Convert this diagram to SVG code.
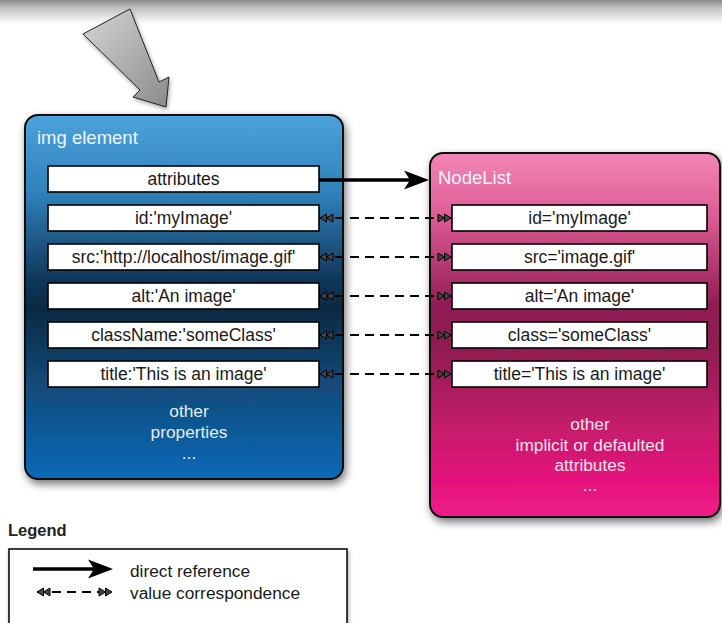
<svg xmlns="http://www.w3.org/2000/svg" width="722" height="623" viewBox="0 0 722 623">
  <defs>
    <linearGradient id="topbar" x1="0" y1="0" x2="0" y2="1">
      <stop offset="0" stop-color="#8c8c8c"/>
      <stop offset="0.35" stop-color="#c4c4c4"/>
      <stop offset="1" stop-color="#ffffff"/>
    </linearGradient>
    <linearGradient id="blue" x1="0" y1="0" x2="0" y2="1">
      <stop offset="0" stop-color="#4ca3dd"/>
      <stop offset="0.22" stop-color="#2f80b9"/>
      <stop offset="0.45" stop-color="#10375a"/>
      <stop offset="0.53" stop-color="#0b2a42"/>
      <stop offset="0.75" stop-color="#134c7c"/>
      <stop offset="1" stop-color="#0769b7"/>
    </linearGradient>
    <linearGradient id="pink" x1="0" y1="0" x2="0" y2="1">
      <stop offset="0" stop-color="#f386b6"/>
      <stop offset="0.18" stop-color="#dc5a93"/>
      <stop offset="0.42" stop-color="#911c54"/>
      <stop offset="0.52" stop-color="#8c1a50"/>
      <stop offset="0.72" stop-color="#bd1f66"/>
      <stop offset="0.9" stop-color="#e5117b"/>
      <stop offset="1" stop-color="#ee2087"/>
    </linearGradient>
    <linearGradient id="grey" x1="0" y1="0" x2="1" y2="1">
      <stop offset="0" stop-color="#d6d6d6"/>
      <stop offset="1" stop-color="#8a8a8a"/>
    </linearGradient>
    <filter id="shadow" x="-10%" y="-10%" width="125%" height="125%">
      <feDropShadow dx="2" dy="4" stdDeviation="4" flood-color="#000" flood-opacity="0.55"/>
    </filter>
    <filter id="shadowS" x="-20%" y="-20%" width="150%" height="150%">
      <feDropShadow dx="1" dy="2" stdDeviation="2" flood-color="#000" flood-opacity="0.35"/>
    </filter>
    <marker id="dbl" markerUnits="userSpaceOnUse" markerWidth="16" markerHeight="12" viewBox="0 -6 16 12" refX="14" refY="0" orient="auto-start-reverse">
      <path d="M1,-4 L7.5,0 L1,4 Z M7.5,-4 L14,0 L7.5,4 Z" fill="#444" stroke="#000" stroke-width="1"/>
    </marker>
  </defs>
  <style>
    text { font-family: "Liberation Sans", Arial, Helvetica, sans-serif; }
    .container { stroke: #111; stroke-width: 2; filter: url(#shadow); }
    .item rect { fill: #ffffff; stroke: #000; stroke-width: 1.6; }
    .item text { font-size: 17.5px; fill: #1a1a1a; text-anchor: middle; }
    .title { font-size: 18.5px; fill: #eef4fa; }
    .note { font-size: 17.3px; text-anchor: middle; }
    .dash { fill: none; stroke: #000; stroke-width: 2.2; stroke-dasharray: 9 6; marker-start: url(#dbl); marker-end: url(#dbl); }
    .solid { fill: none; stroke: #000; stroke-width: 3.4; }
    .legendtext { font-size: 17.3px; fill: #1a1a1a; }
  </style>

  <rect x="0" y="0" width="722" height="24" fill="url(#topbar)"/>

  <g id="pointer-arrow">
    <polygon points="130,9 83,34 140,90 133,97 166,107 169,77 159,82" fill="url(#grey)" stroke="#222" stroke-width="1" filter="url(#shadowS)"/>
  </g>

  <g id="img-element">
    <rect class="container" x="25" y="115" width="318" height="364" rx="13" fill="url(#blue)"/>
    <text class="title" x="37" y="144">img element</text>
    <text class="note" x="189" y="417" fill="#e4edf6">other</text>
    <text class="note" x="189" y="438" fill="#e4edf6">properties</text>
    <text class="note" x="189" y="459" fill="#e4edf6">...</text>
  </g>

  <g id="img-attributes" class="item"><rect x="48" y="166" width="271" height="26"/><text x="183.5" y="184.5">attributes</text></g>
  <g id="img-id" class="item"><rect x="48" y="205" width="271" height="26"/><text x="183.5" y="223.5">id:'myImage'</text></g>
  <g id="img-src" class="item"><rect x="48" y="244" width="271" height="26"/><text x="183.5" y="262.5">src:'http://localhost/image.gif'</text></g>
  <g id="img-alt" class="item"><rect x="48" y="283" width="271" height="26"/><text x="183.5" y="301.5">alt:'An image'</text></g>
  <g id="img-className" class="item"><rect x="48" y="322" width="271" height="26"/><text x="183.5" y="340.5">className:'someClass'</text></g>
  <g id="img-title" class="item"><rect x="48" y="361" width="271" height="26"/><text x="183.5" y="379.5">title:'This is an image'</text></g>

  <g id="nodelist">
    <rect class="container" x="430" y="153" width="290" height="364" rx="13" fill="url(#pink)"/>
    <text class="title" x="438" y="184" fill="#fff4f9">NodeList</text>
    <text class="note" x="590" y="430" fill="#fbe3ee">other</text>
    <text class="note" x="590" y="451" fill="#fbe3ee">implicit or defaulted</text>
    <text class="note" x="590" y="471" fill="#fbe3ee">attributes</text>
    <text class="note" x="590" y="491" fill="#fbe3ee">...</text>
  </g>

  <g id="nl-id" class="item"><rect x="452" y="205" width="255" height="26"/><text x="579.5" y="223.5">id='myImage'</text></g>
  <g id="nl-src" class="item"><rect x="452" y="244" width="255" height="26"/><text x="579.5" y="262.5">src='image.gif'</text></g>
  <g id="nl-alt" class="item"><rect x="452" y="283" width="255" height="26"/><text x="579.5" y="301.5">alt='An image'</text></g>
  <g id="nl-class" class="item"><rect x="452" y="322" width="255" height="26"/><text x="579.5" y="340.5">class='someClass'</text></g>
  <g id="nl-title" class="item"><rect x="452" y="361" width="255" height="26"/><text x="579.5" y="379.5">title='This is an image'</text></g>

  <g id="connectors">
    <path class="solid" d="M319,180 H410"/>
    <path d="M429,180 L404,170.5 L410,180 L404,189.5 Z" fill="#000"/>
    <path class="dash" d="M320,218 H451"/>
    <path class="dash" d="M320,257 H451"/>
    <path class="dash" d="M320,296 H451"/>
    <path class="dash" d="M320,335 H451"/>
    <path class="dash" d="M320,374 H451"/>
  </g>

  <g id="legend">
    <text x="8" y="536" font-size="16.5" font-weight="bold" fill="#222">Legend</text>
    <rect x="9" y="549" width="338" height="100" fill="#fff" stroke="#111" stroke-width="1.6" filter="url(#shadowS)"/>
    <path class="solid" d="M33,569 H95"/>
    <path d="M113,569 L88,559.5 L94,569 L88,578.5 Z" fill="#000"/>
    <text class="legendtext" x="130" y="577">direct reference</text>
    <path class="dash" d="M37,592 H112"/>
    <text class="legendtext" x="130" y="599">value correspondence</text>
  </g>
</svg>
